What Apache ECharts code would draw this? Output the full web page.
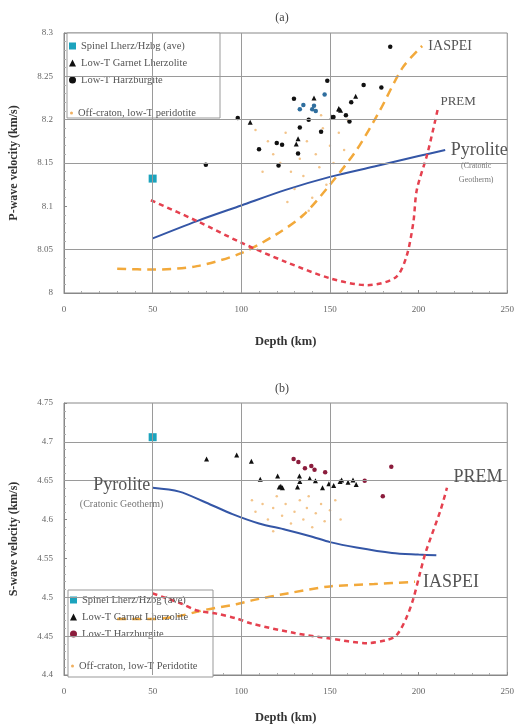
<!DOCTYPE html>
<html lang="en">
<head>
<meta charset="UTF-8">
<title>Velocity vs depth</title>
<script src="https://cdn.jsdelivr.net/npm/echarts@6/dist/echarts.min.js"></script>
<style>
  html, body { margin: 0; padding: 0; background: #fff; }
  #main { width: 517px; height: 725px; }
</style>
</head>
<body>
<div id="main"></div>
<script>
// ---- data: [depth km, velocity km/s] ----
var depthTicks = [0, 50, 100, 150, 200, 250];

// (a) P-wave
var spinelA = [[50, 8.132]];
var garnetA = [[141, 8.225], [164.5, 8.227], [155, 8.212], [156, 8.211], [132, 8.178], [131, 8.172], [105, 8.197], [151, 8.203], [155, 8.213]];
var harzA = [[148.5, 8.245], [169, 8.240], [179, 8.237], [184, 8.284], [129.7, 8.224], [162, 8.220], [159, 8.205], [161, 8.198], [138, 8.200], [152, 8.203], [145, 8.186], [133, 8.191], [132, 8.161], [120, 8.173], [123, 8.171], [110, 8.166], [121, 8.147], [80, 8.148], [98, 8.202]];
var harzBlueA = [[147, 8.229], [135, 8.217], [133, 8.212], [140, 8.212], [142, 8.210], [141, 8.216]];
var offCratonA = [[108, 8.188], [115, 8.175], [118, 8.16], [122, 8.15], [125, 8.185], [128, 8.14], [130, 8.12], [133, 8.155], [135, 8.135], [137, 8.175], [140, 8.11], [142, 8.16], [144, 8.145], [146, 8.19], [148, 8.125], [150, 8.17], [152, 8.15], [155, 8.185], [158, 8.165], [160, 8.2], [126, 8.105], [138, 8.095], [112, 8.14], [145, 8.205]];
var pyroliteA = [[50, 8.063], [75, 8.083], [100, 8.101], [125, 8.119], [150, 8.134], [175, 8.146], [200, 8.158], [215, 8.165]];
var iaspeiA = [[30, 8.028], [50, 8.027], [75, 8.031], [100, 8.046], [120, 8.068], [135, 8.09], [150, 8.125], [165, 8.165], [178, 8.21], [191, 8.26], [202, 8.285]];
var premA = [[49, 8.107], [75, 8.083], [100, 8.058], [125, 8.036], [150, 8.017], [171, 8.009], [187, 8.018], [193, 8.041], [197, 8.081], [199, 8.119], [205, 8.161], [211, 8.214]];
var vGridA = [50, 100, 150];
var hGridA = [8.05, 8.15, 8.2, 8.25];

// (b) S-wave
var spinelB = [[50, 4.706]];
var garnetB = [[80.4, 4.678], [97.4, 4.683], [105.7, 4.675], [110.7, 4.652], [120.5, 4.656], [121.4, 4.642], [123.2, 4.641], [122.3, 4.643], [132.8, 4.656], [133, 4.649], [131.7, 4.642], [138.6, 4.653], [141.8, 4.650], [145.8, 4.641], [149.4, 4.646], [152.1, 4.644], [155.7, 4.649], [156.6, 4.651], [160.2, 4.648], [163, 4.651], [164.8, 4.645]];
var harzB = [[129.5, 4.678], [132.2, 4.674], [135.9, 4.666], [139.5, 4.669], [141.3, 4.664], [147.3, 4.661], [169.6, 4.650], [179.8, 4.630], [184.6, 4.668]];
var offCratonB = [[106, 4.625], [108, 4.61], [112, 4.62], [115, 4.6], [118, 4.615], [120, 4.63], [123, 4.605], [125, 4.62], [128, 4.595], [130, 4.61], [133, 4.625], [135, 4.6], [137, 4.615], [140, 4.59], [142, 4.608], [145, 4.62], [147, 4.598], [150, 4.612], [153, 4.625], [156, 4.6], [118, 4.585], [138, 4.63]];
var pyroliteB = [[50, 4.641], [65, 4.636], [80, 4.622], [95, 4.607], [110, 4.595], [125, 4.587], [140, 4.578], [150, 4.571], [165, 4.564], [185, 4.557], [200, 4.555], [210, 4.554]];
var iaspeiB = [[30, 4.472], [50, 4.472], [65, 4.476], [80, 4.484], [97, 4.491], [106, 4.496], [126, 4.505], [150, 4.514], [175, 4.517], [198, 4.52]];
var premB = [[50, 4.505], [66, 4.492], [75, 4.483], [86, 4.479], [97, 4.473], [106, 4.466], [130, 4.454], [150, 4.447], [171, 4.441], [182, 4.445], [187.5, 4.451], [193, 4.473], [197, 4.498], [201, 4.533], [204, 4.558], [212.5, 4.613], [216, 4.641]];
var vGridB = [50, 100, 150];
var hGridB = [4.45, 4.5, 4.65, 4.7];

var serif = 'Liberation Serif';
var names = {
    spinel: 'Spinel Lherz/Hzbg (ave)',
    garnet: 'Low-T Garnet Lherzolite',
    harz: 'Low-T Harzburgite',
    offA: 'Off-craton, low-T peridotite',
    offB: 'Off-craton, low-T Peridotite'
};

var chart = echarts.init(document.getElementById('main'));

function xAxisFor(i, gap) {
    return {
        gridIndex: i, type: 'value', min: 0, max: 250, interval: 50,
        axisLine: { show: true, lineStyle: { color: '#888' } },
        axisTick: { show: true, inside: true, length: 3, lineStyle: { color: '#888' } },
        minorTick: { show: true, splitNumber: 5, length: 2, lineStyle: { color: '#aaa' } },
        splitLine: { show: false },
        axisLabel: { fontFamily: serif, fontSize: 9, color: '#666', margin: 12 },
        name: 'Depth (km)', nameLocation: 'middle', nameGap: gap,
        nameTextStyle: { fontFamily: serif, fontWeight: 'bold', fontSize: 12.5, color: '#333' }
    };
}
function yAxisFor(i, min, max, name) {
    return {
        gridIndex: i, type: 'value', min: min, max: max, interval: 0.05,
        axisLine: { show: true, lineStyle: { color: '#888' } },
        axisTick: { show: true, inside: true, length: 3, lineStyle: { color: '#888' } },
        minorTick: { show: true, splitNumber: 5, length: 2, lineStyle: { color: '#aaa' } },
        splitLine: { show: false },
        axisLabel: { fontFamily: serif, fontSize: 9, color: '#666', margin: 11 },
        name: name, nameLocation: 'middle', nameGap: 44, nameRotate: 90,
        nameTextStyle: { fontFamily: serif, fontWeight: 'bold', fontSize: 12, color: '#333' }
    };
}

function gridLines(i, vs, hs) {
    return {
        type: 'line', xAxisIndex: i, yAxisIndex: i, data: [], z: 0, silent: true,
        markLine: {
            silent: true, symbol: 'none', animation: false,
            label: { show: false },
            lineStyle: { color: '#9a9a9a', type: 'solid', width: 1 },
            data: vs.map(function (v) { return { xAxis: v }; })
                .concat(hs.map(function (v) { return { yAxis: v }; }))
        }
    };
}

function scatter(i, name, data, symbol, size, color) {
    return {
        type: 'scatter', name: name, xAxisIndex: i, yAxisIndex: i, z: 4,
        symbol: symbol, symbolSize: size, data: data,
        itemStyle: { color: color, opacity: 1 }
    };
}

function curve(i, name, data, color, width, dash, marks) {
    return {
        type: 'line', name: name, xAxisIndex: i, yAxisIndex: i, z: 3,
        data: data, showSymbol: false, smooth: 0.3,
        lineStyle: { color: color, width: width, type: dash },
        markPoint: {
            symbol: 'circle', symbolSize: 1, itemStyle: { color: 'transparent' },
            data: marks
        }
    };
}

function tag(pt, text, size, offset, color) {
    return {
        coord: pt,
        label: {
            show: true, position: 'inside', formatter: text, offset: offset,
            fontFamily: serif, fontSize: size, color: color || '#555'
        }
    };
}

var last = function (arr) { return arr[arr.length - 1]; };

var option = {
    animation: false,
    backgroundColor: '#fff',
    grid: [
        { left: 61, top: 33, width: 452, height: 260, show: true, borderColor: '#888', borderWidth: 1 },
        { left: 61, top: 403, width: 459, height: 274, show: true, borderColor: '#888', borderWidth: 1 }
    ],
    xAxis: [xAxisFor(0, 42), xAxisFor(1, 36)],
    yAxis: [
        yAxisFor(0, 8, 8.3, 'P-wave velocity (km/s)'),
        yAxisFor(1, 4.4, 4.75, 'S-wave velocity (km/s)')
    ],
    graphic: [
        { type: 'rect', z: 1, shape: { x: 67, y: 33, width: 153, height: 85 }, style: { fill: '#fff', stroke: '#999', lineWidth: 1 } },
        { type: 'rect', z: 1, shape: { x: 68, y: 590, width: 145, height: 87 }, style: { fill: '#fff', stroke: '#999', lineWidth: 1 } },
        { type: 'text', x: 282, y: 18, style: { text: '(a)', fontFamily: serif, fontSize: 12, fill: '#444', textAlign: 'center', textVerticalAlign: 'middle' } },
        { type: 'text', x: 282, y: 389, style: { text: '(b)', fontFamily: serif, fontSize: 12, fill: '#444', textAlign: 'center', textVerticalAlign: 'middle' } }
    ],
    legend: [
        {
            left: 69, top: 40, orient: 'vertical', padding: 0, itemGap: 5,
            itemWidth: 7, itemHeight: 7, selectedMode: false,
            textStyle: { fontFamily: serif, fontSize: 10.5, lineHeight: 12, color: '#555' },
            data: [
                { name: names.spinel, icon: 'rect', itemStyle: { color: '#1ba3bd' } },
                { name: names.garnet, icon: 'triangle', itemStyle: { color: '#111' } },
                { name: names.harz, icon: 'circle', itemStyle: { color: '#111' } }
            ]
        },
        {
            left: 70, top: 107, orient: 'vertical', padding: 0,
            itemWidth: 3, itemHeight: 3, selectedMode: false,
            textStyle: { fontFamily: serif, fontSize: 10.5, lineHeight: 12, color: '#555' },
            data: [{ name: names.offA, icon: 'circle', itemStyle: { color: '#f0b060' } }]
        },
        {
            left: 70, top: 594, orient: 'vertical', padding: 0, itemGap: 5,
            itemWidth: 7, itemHeight: 7, selectedMode: false,
            textStyle: { fontFamily: serif, fontSize: 10.5, lineHeight: 12, color: '#555' },
            data: [
                { name: names.spinel, icon: 'rect', itemStyle: { color: '#1ba3bd' } },
                { name: names.garnet, icon: 'triangle', itemStyle: { color: '#111' } },
                { name: names.harz, icon: 'circle', itemStyle: { color: '#8b1c3c' } }
            ]
        },
        {
            left: 71, top: 660, orient: 'vertical', padding: 0,
            itemWidth: 3, itemHeight: 3, selectedMode: false,
            textStyle: { fontFamily: serif, fontSize: 10.5, lineHeight: 12, color: '#555' },
            data: [{ name: names.offB, icon: 'circle', itemStyle: { color: '#f0b060' } }]
        }
    ],
    series: [
        gridLines(0, vGridA, hGridA),
        gridLines(1, vGridB, hGridB),

        // (a)
        scatter(0, names.offA, offCratonA, 'circle', 2.5, '#f3c48a'),
        curve(0, 'Pyrolite', pyroliteA, '#3456a6', 2, 'solid', [
            tag(last(pyroliteA), 'Pyrolite', 18, [34, 0]),
            tag(last(pyroliteA), '(Cratonic', 8, [31, 16], '#777'),
            tag(last(pyroliteA), 'Geotherm)', 8, [31, 30], '#777')
        ]),
        curve(0, 'IASPEI', iaspeiA, '#f2a93b', 2.5, [9, 6], [
            tag(last(iaspeiA), 'IASPEI', 14, [28, 0])
        ]),
        curve(0, 'PREM', premA, '#e5414f', 2.5, [5, 4], [
            tag(last(premA), 'PREM', 13, [20, -6])
        ]),
        scatter(0, names.spinel, spinelA, 'rect', 8, '#1ba3bd'),
        scatter(0, names.garnet, garnetA, 'triangle', 5, '#111'),
        scatter(0, names.harz, harzA, 'circle', 4.5, '#111'),
        scatter(0, names.harz, harzBlueA, 'circle', 4.5, '#2f6e9e'),

        // (b)
        scatter(1, names.offB, offCratonB, 'circle', 2.5, '#f3c48a'),
        curve(1, 'Pyrolite', pyroliteB, '#3456a6', 2, 'solid', [
            tag(pyroliteB[0], 'Pyrolite', 18, [-31, -2]),
            tag(pyroliteB[0], '(Cratonic Geotherm)', 10, [-31, 17], '#777')
        ]),
        curve(1, 'IASPEI', iaspeiB, '#f2a93b', 2.5, [9, 6], [
            tag(last(iaspeiB), 'IASPEI', 18, [36, 1])
        ]),
        curve(1, 'PREM', premB, '#e5414f', 2.5, [5, 4], [
            tag(last(premB), 'PREM', 18, [31, -10])
        ]),
        scatter(1, names.spinel, spinelB, 'rect', 8, '#1ba3bd'),
        scatter(1, names.garnet, garnetB, 'triangle', 5, '#111'),
        scatter(1, names.harz, harzB, 'circle', 4.5, '#8b1c3c')
    ]
};

chart.setOption(option);
</script>
</body>
</html>
